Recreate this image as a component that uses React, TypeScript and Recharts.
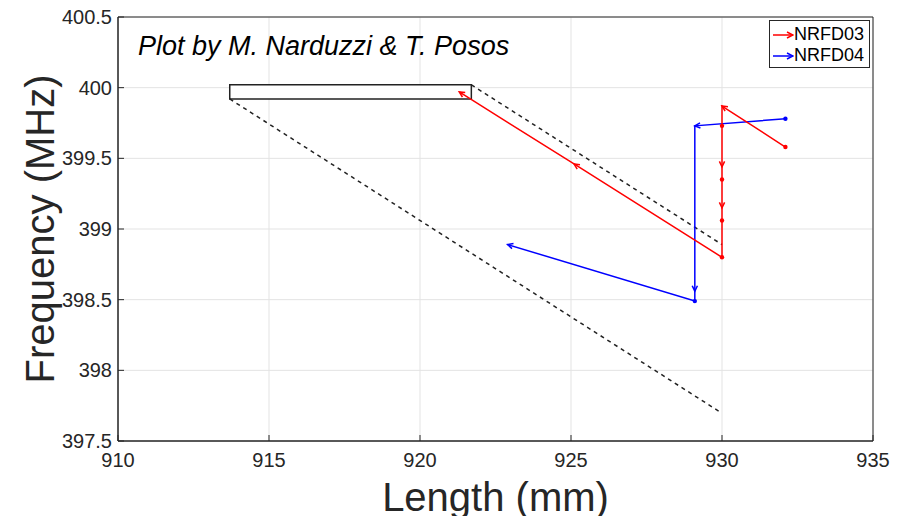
import {
  ComposedChart,
  Line,
  XAxis,
  YAxis,
  CartesianGrid,
  ReferenceArea,
} from 'recharts'

// NRFD03 (red) path, in measurement order
const redLength = [932.1, 930.0, 930.0, 930.0, 930.0, 930.0, 930.0, 930.0, 925.1, 921.3]
const redFreq = [399.58, 399.87, 399.73, 399.44, 399.35, 399.15, 399.06, 398.8, 399.46, 399.97]
const redArrow = [false, true, false, true, false, true, false, false, true, true]

// NRFD04 (blue) path
const blueLength = [932.1, 929.1, 929.1, 929.1, 922.9]
const blueFreq = [399.78, 399.73, 398.56, 398.49, 398.89]
const blueArrow = [false, true, true, false, true]

// zoom box and its projection lines
const boxLength = [913.7, 921.7]
const boxFreq = [399.92, 400.02]
const lowerDashLength = [913.7, 929.9]
const lowerDashFreq = [399.92, 397.71]
const upperDashLength = [921.7, 930.0]
const upperDashFreq = [400.02, 398.89]

const xTicks = [910, 915, 920, 925, 930, 935]
const yTicks = [397.5, 398, 398.5, 399, 399.5, 400, 400.5]

const FONT = '"Liberation Sans", Arial, sans-serif'
const INK = '#262626'

function toPoints(xs: number[], ys: number[], arrows?: boolean[]) {
  return xs.map((x, i) => ({ x, y: ys[i], arrow: arrows ? arrows[i] : false }))
}

const redData = toPoints(redLength, redFreq, redArrow)
const blueData = toPoints(blueLength, blueFreq, blueArrow)
const lowerDash = toPoints(lowerDashLength, lowerDashFreq)
const upperDash = toPoints(upperDashLength, upperDashFreq)

function makeMarker(color: string) {
  return (props: any) => {
    const { cx, cy, index, points, payload } = props
    if (cx == null || cy == null) return <g key={`m-${index}`} />
    if (payload?.arrow && points && index > 0) {
      const prev = points[index - 1]
      const ang = Math.atan2(cy - prev.y, cx - prev.x)
      const len = 6
      const spread = 0.45
      const x1 = cx - len * Math.cos(ang - spread)
      const y1 = cy - len * Math.sin(ang - spread)
      const x2 = cx - len * Math.cos(ang + spread)
      const y2 = cy - len * Math.sin(ang + spread)
      return (
        <path
          key={`m-${index}`}
          d={`M${x1},${y1}L${cx},${cy}L${x2},${y2}`}
          stroke={color}
          strokeWidth={1.5}
          fill="none"
        />
      )
    }
    return <circle key={`m-${index}`} cx={cx} cy={cy} r={2.2} fill={color} />
  }
}

function LegendArrow({ color }: { color: string }) {
  return (
    <svg width={22} height={10} style={{ display: 'block' }}>
      <line x1={1} y1={5} x2={21} y2={5} stroke={color} strokeWidth={1.5} />
      <path d="M15,2 L21,5 L15,8" stroke={color} strokeWidth={1.5} fill="none" />
    </svg>
  )
}

export default function App() {
  return (
    <div style={{ position: 'relative', width: 903, height: 524, margin: -8, background: '#fff', fontFamily: FONT }}>
      <ComposedChart
        width={903}
        height={524}
        margin={{ top: 17, right: 30, bottom: 0, left: 0 }}
      >
        <CartesianGrid stroke="#e3e3e3" strokeWidth={1} />
        <XAxis
          type="number"
          dataKey="x"
          domain={[910, 935]}
          ticks={xTicks}
          allowDataOverflow
          height={83}
          tickSize={-6}
          tickMargin={18}
          stroke={INK}
          tick={{ fill: INK, fontSize: 20, fontFamily: FONT }}
          label={{
            content: (p: any) => (
              <text
                x={p.viewBox.x + p.viewBox.width / 2}
                y={p.viewBox.y + 70}
                textAnchor="middle"
                fontSize={40}
                fill={INK}
                fontFamily={FONT}
              >
                Length (mm)
              </text>
            ),
          }}
        />
        <YAxis
          type="number"
          dataKey="y"
          domain={[397.5, 400.5]}
          ticks={yTicks}
          allowDataOverflow
          width={118}
          tickSize={-6}
          tickMargin={12}
          stroke={INK}
          tick={{ fill: INK, fontSize: 20, fontFamily: FONT }}
          label={{
            content: (p: any) => {
              const cx = 54
              const cy = p.viewBox.y + p.viewBox.height / 2
              return (
                <text
                  x={cx}
                  y={cy}
                  textAnchor="middle"
                  fontSize={40}
                  fill={INK}
                  fontFamily={FONT}
                  transform={`rotate(-90 ${cx} ${cy})`}
                >
                  Frequency (MHz)
                </text>
              )
            },
          }}
        />
        <ReferenceArea
          x1={910}
          x2={935}
          y1={397.5}
          y2={400.5}
          fill="none"
          stroke={INK}
          strokeWidth={1}
        />
        <Line
          data={lowerDash}
          dataKey="y"
          type="linear"
          stroke="#222"
          strokeWidth={1.5}
          strokeDasharray="4 4"
          dot={false}
          isAnimationActive={false}
        />
        <Line
          data={upperDash}
          dataKey="y"
          type="linear"
          stroke="#222"
          strokeWidth={1.5}
          strokeDasharray="4 4"
          dot={false}
          isAnimationActive={false}
        />
        <ReferenceArea
          x1={boxLength[0]}
          x2={boxLength[1]}
          y1={boxFreq[0]}
          y2={boxFreq[1]}
          fill="#fff"
          fillOpacity={1}
          stroke="#222"
          strokeWidth={1.5}
        />
        <Line
          data={blueData}
          dataKey="y"
          type="linear"
          stroke="#0000ff"
          strokeWidth={1.5}
          dot={makeMarker('#0000ff')}
          isAnimationActive={false}
        />
        <Line
          data={redData}
          dataKey="y"
          type="linear"
          stroke="#ff0000"
          strokeWidth={1.5}
          dot={makeMarker('#ff0000')}
          isAnimationActive={false}
        />
      </ComposedChart>

      <div
        style={{
          position: 'absolute',
          left: 138,
          top: 31,
          fontSize: 27,
          fontStyle: 'italic',
          color: '#000',
          whiteSpace: 'nowrap',
        }}
      >
        Plot by M. Narduzzi &amp; T. Posos
      </div>

      <div
        style={{
          position: 'absolute',
          left: 769,
          top: 20,
          width: 101,
          height: 48,
          border: `1px solid ${INK}`,
          background: '#fff',
          fontSize: 18,
          color: '#000',
          boxSizing: 'border-box',
          padding: '3px 0 0 2px',
        }}
      >
        <div style={{ display: 'flex', alignItems: 'center', height: 21 }}>
          <LegendArrow color="#ff0000" />
          <span>NRFD03</span>
        </div>
        <div style={{ display: 'flex', alignItems: 'center', height: 21 }}>
          <LegendArrow color="#0000ff" />
          <span>NRFD04</span>
        </div>
      </div>
    </div>
  )
}
